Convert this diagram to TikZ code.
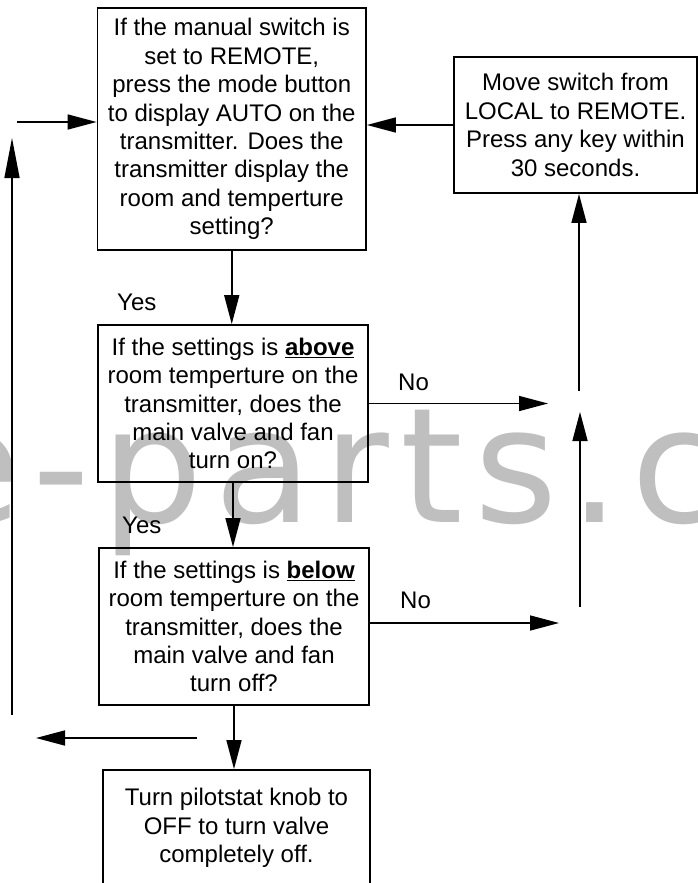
\documentclass[tikz,border=0pt]{standalone}
\usepackage{fontspec}
\setmainfont{Liberation Sans}
\newfontfamily\wmfont[LetterSpace=7]{DejaVu Sans}
\usetikzlibrary{arrows.meta}
\begin{document}
\begin{tikzpicture}[x=1pt,y=-1pt,
  box/.style={draw, line width=1.8pt, rectangle, inner sep=0pt, align=center,
    font=\fontsize{24}{28.4}\selectfont},
  conn/.style={line width=1.5pt, -{Triangle[length=29pt,width=15pt]}},
  longconn/.style={line width=1.5pt, -{Triangle[length=40pt,width=15pt]}},
  lbl/.style={anchor=base west, inner sep=0pt, font=\fontsize{24}{28.4}\selectfont},
  wmark/.style={anchor=base west, inner sep=0pt, text=black!25,
    font=\wmfont\fontsize{160}{160}\selectfont}
]
\clip (0,0) rectangle (698,883);
\fill[white] (0,0) rectangle (698,883);

% watermark (behind)
\node[wmark] (wm) at (-77,522) {e-parts.c};

% boxes
\node[box, minimum width=268.5pt, minimum height=242pt] (b1) at (231.75,129)
  {If the manual switch is\\set to REMOTE,\\press the mode button\\to display AUTO on the\\transmitter. Does the\\transmitter display the\\room and temperture\\setting?};
\node[box, minimum width=243pt, minimum height=136pt] (b2) at (575.5,125)
  {Move switch from\\LOCAL to REMOTE.\\Press any key within\\30 seconds.};
\node[box, minimum width=270pt, minimum height=157pt] (b3) at (233,403.5)
  {If the settings is \textbf{\underline{above}}\\room temperture on the\\transmitter, does the\\main valve and fan\\turn on?};
\node[box, minimum width=270pt, minimum height=157pt] (b4) at (234,626.5)
  {If the settings is \textbf{\underline{below}}\\room temperture on the\\transmitter, does the\\main valve and fan\\turn off?};
\node[box, minimum width=267pt, minimum height=116pt] (b5) at (236.5,828)
  {Turn pilotstat knob to\\OFF to turn valve\\completely off.};

% free ends
\coordinate (inL) at (17,122);
\coordinate (lvB) at (12,715);
\coordinate (lvT) at (12,138);
\coordinate (ruB) at (579,391);
\coordinate (n1) at (548,404);
\coordinate (rlB) at (580,607);
\coordinate (rlT) at (580,412);
\coordinate (n2) at (559,623);
\coordinate (lS) at (197,738);
\coordinate (lE) at (36,738);

% connectors
\draw[conn] (inL) -- (inL -| b1.west);
\draw[conn] (b2.west) -- (b2.west -| b1.east);
\draw[longconn] (lvB) -- (lvT);
\draw[conn] (ruB) -- (ruB |- b2.south);
\draw[conn] (b1.south) -- (b1.south |- b3.north);
\draw[conn] (b3.east) -- (b3.east -| n1);
\draw[conn] (rlB) -- (rlT);
\draw[conn] (b3.south) -- (b3.south |- b4.north);
\draw[conn] (b4.east |- n2) -- (n2);
\draw[conn] (b4.south) -- (b4.south |- b5.north);
\draw[conn] (lS) -- (lE);

% labels
\node[lbl] (yes1) at (117,310) {Yes};
\node[lbl] (yes2) at (122,533) {Yes};
\node[lbl] (no1) at (398,390) {No};
\node[lbl] (no2) at (400,608) {No};
\end{tikzpicture}
\end{document}
